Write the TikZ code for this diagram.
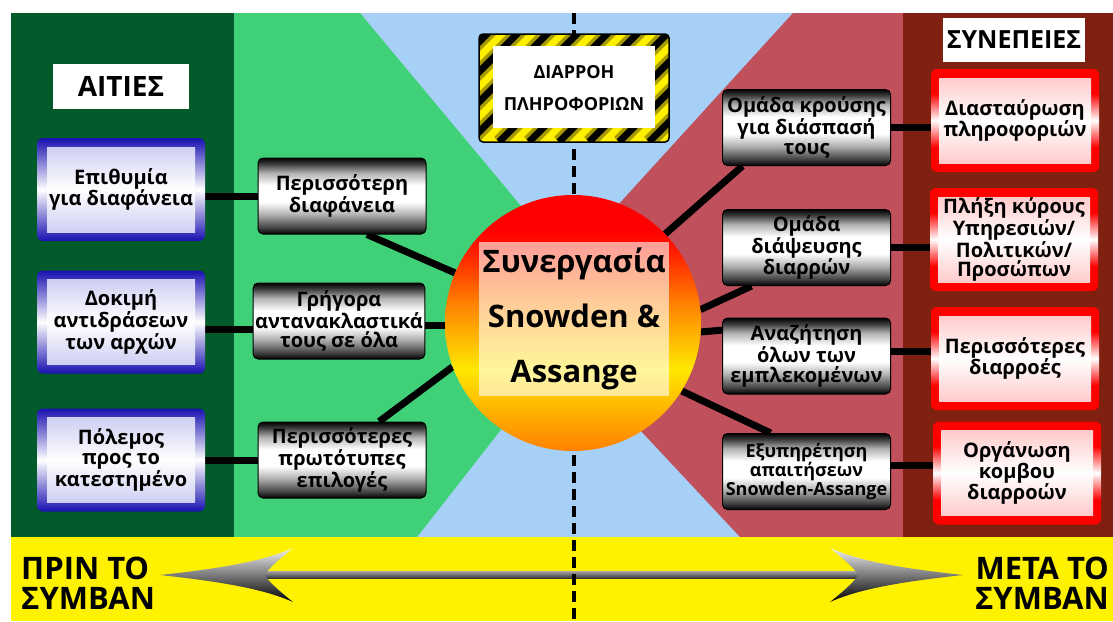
\documentclass[tikz,border=0pt]{standalone}
\usepackage{fontspec}
\setmainfont{Open Sans}
\usepackage{tikz}
\usetikzlibrary{arrows, shapes, positioning, backgrounds}

\definecolor{forest}{RGB}{3,91,43}
\definecolor{leaf}{RGB}{64,208,120}
\definecolor{sky}{RGB}{166,208,246}
\definecolor{rose}{RGB}{192,80,92}
\definecolor{maroon}{RGB}{128,32,16}
\definecolor{royal}{RGB}{24,16,176}
\definecolor{lilac}{RGB}{196,196,240}
\definecolor{blush}{RGB}{255,192,192}
\definecolor{hazard}{RGB}{255,240,0}
\definecolor{fireorange}{RGB}{255,128,0}
\definecolor{fireyellow}{RGB}{255,232,0}

\pgfdeclareverticalshading{glassgray}{100bp}{color(0bp)=(black); color(25bp)=(black); color(29bp)=(black!75); color(38bp)=(black!30); color(46bp)=(white); color(57bp)=(white); color(65bp)=(black!30); color(71bp)=(black!75); color(75bp)=(black); color(100bp)=(black)}
\pgfdeclareverticalshading{glassred}{100bp}{color(0bp)=(red); color(25bp)=(red); color(37bp)=(red); color(50bp)=(white); color(63bp)=(red); color(75bp)=(red); color(100bp)=(red)}
\pgfdeclareverticalshading{fireball}{100bp}{color(0bp)=(fireorange); color(25bp)=(fireorange); color(41bp)=(fireyellow); color(54bp)=(fireorange); color(63bp)=(red!70!fireorange); color(68bp)=(red); color(75bp)=(red); color(100bp)=(red)}

\newcommand{\cardfont}{\fontsize{20pt}{19.5pt}\selectfont\bfseries}

\tikzset{
		card/.style={minimum width=168pt, minimum height=103pt, align=center, inner sep=2pt, font=\cardfont, rounded corners=6pt},
		cause box/.style={card, top color=royal, bottom color=royal, middle color=white,
			path picture={\shade[sharp corners, top color=lilac, bottom color=lilac, middle color=white]
				([shift={(10pt,9pt)}]path picture bounding box.south west) rectangle
				([shift={(-10pt,-9pt)}]path picture bounding box.north east);}},
		effect box/.style={card, shade, shading=glassred,
			path picture={\shade[sharp corners, top color=blush, bottom color=blush, middle color=white]
				([shift={(8pt,9pt)}]path picture bounding box.south west) rectangle
				([shift={(-8pt,-9pt)}]path picture bounding box.north east);}},
		relay box/.style={minimum width=168pt, minimum height=76pt, align=center, inner sep=2pt, font=\cardfont,
			rounded corners=5pt, draw=black, line width=1pt, shade, shading=glassgray},
		title tag/.style={fill=white, minimum width=136pt, minimum height=45pt, font=\fontsize{28pt}{28pt}\selectfont\bfseries},
		era tag/.style={align=left, inner sep=0pt, font=\fontsize{31pt}{30pt}\selectfont\bfseries},
		hazard box/.style={minimum width=190pt, minimum height=108pt, rounded corners=4pt, draw=black, line width=1.5pt,
			fill=hazard, align=center, font=\fontsize{18pt}{32pt}\selectfont\bfseries,
			path picture={
				\foreach \k in {0,...,12}
					{\draw[sharp corners, black, line width=14pt, opacity=0.35] ([xshift=\k*30pt-130pt]path picture bounding box.south west) -- ++(150pt,150pt);
					 \draw[sharp corners, black, line width=7pt] ([xshift=\k*30pt-130pt]path picture bounding box.south west) -- ++(150pt,150pt);}
				\fill[white, sharp corners] ([shift={(14pt,14pt)}]path picture bounding box.south west) rectangle
					([shift={(-14pt,-12pt)}]path picture bounding box.north east);}},
		hub/.style={circle, minimum size=256pt, shade, shading=fireball},
		hub label/.style={fill=white, fill opacity=0.6, text opacity=1, minimum width=188pt, minimum height=154pt,
			align=center, font=\fontsize{31pt}{55pt}\selectfont\bfseries},
		link/.style={line width=7pt, black},
		leak line/.style={line width=4pt, black, dash pattern=on 11pt off 6pt}
	}

\begin{document}
\begin{tikzpicture}[x=1pt, y=-1pt, node distance=221pt]
		\useasboundingbox (0,0) rectangle (1113,621);

		% causes and what follows from them
		\node[title tag]  (causes) at (121,86.5) {ΑΙΤΙΕΣ};
		\node[cause box]  (c1) at (121,189.5) {Επιθυμία\\για διαφάνεια};
		\node[cause box]  (c2) at (121,322)   {Δοκιμή\\αντιδράσεων\\των αρχών};
		\node[cause box]  (c3) at (121,460)   {Πόλεμος\\προς το\\κατεστημένο};
		\node[relay box]  (l1) [right of = c1, yshift=-6.5pt] {Περισσότερη\\διαφάνεια};
		\node[relay box]  (l2) [right of = c2, xshift=-3pt, yshift=1pt] {Γρήγορα\\αντανακλαστικά\\τους σε όλα};
		\node[relay box]  (l3) [right of = c3] {Περισσότερες\\πρωτότυπες\\επιλογές};

		% consequences
		\node[title tag, minimum height=44pt, font=\fontsize{25pt}{25pt}\selectfont\bfseries] (effects) at (1014,40) {ΣΥΝΕΠΕΙΕΣ};
		\node[effect box] (e1) at (1015,120.5) {Διασταύρωση\\πληροφοριών};
		\node[effect box] (e2) at (1014,239.5) {Πλήξη κύρους\\Υπηρεσιών/\\Πολιτικών/\\Προσώπων};
		\node[effect box] (e3) at (1015,358.5) {Περισσότερες\\διαρροές};
		\node[effect box] (e4) at (1017,473)   {Οργάνωση\\κομβου\\διαρροών};
		\node[relay box]  (r1) [left of = e1, node distance=208.5pt, yshift=-7pt] {Ομάδα κρούσης\\για διάσπασή\\τους};
		\node[relay box]  (r2) [left of = e2, node distance=207.5pt, yshift=-8pt] {Ομάδα\\διάψευσης\\διαρρών};
		\node[relay box]  (r3) [left of = e3, node distance=208.5pt, yshift=2.5pt] {Αναζήτηση\\όλων των\\εμπλεκομένων};
		\node[relay box, font=\fontsize{18pt}{17.5pt}\selectfont\bfseries]
		                  (r4) [left of = e4, node distance=210.5pt, yshift=1.5pt] {Εξυπηρέτηση\\απαιτήσεων\\Snowden-Assange};

		% centre
		\node[hazard box] (leak) at (574,88) {ΔΙΑΡΡΟΗ\\ΠΛΗΡΟΦΟΡΙΩΝ};
		\node[hub]        (hub)  at (573,323) {};
		\node[hub label]  (pact) at (574,319) {Συνεργασία\\Snowden \&\\Assange};

		% before / after
		\node[era tag, anchor=west] (before) at (21,583) {ΠΡΙΝ ΤΟ\\ΣΥΜΒΑΝ};
		\node[era tag, anchor=east, align=right] (after) at (1109,583) {ΜΕΤΑ ΤΟ\\ΣΥΜΒΑΝ};
		\coordinate (past)   at (160,575);
		\coordinate (future) at (963,575);
		\coordinate (top)    at (574,13);
		\coordinate (bottom) at (574,621);

		\begin{pgfonlayer}{background}
			\fill[white]  (0,0) rectangle (1113,621);
			\fill[sky]    (11,13) rectangle (1113,537);
			\fill[leaf]   (234,13) -- (360,13) -- (601,302) -- (417,537) -- (234,537) -- cycle;
			\fill[rose]   (903,13) -- (793,13) -- (525,307) -- (740,537) -- (903,537) -- cycle;
			\fill[forest] (11,13) rectangle (234,537);
			\fill[maroon] (903,13) rectangle (1113,537);
			\fill[yellow] (11,537) rectangle (1113,621);

			% timeline arrow
			\shade[top color=gray!75, bottom color=gray!40!black] (262,571.5) rectangle (861,578.5);
			\shade[top color=gray!10, bottom color=black] (past)
				.. controls (215,569) and (262,562) .. (293,548)
				.. controls (278,560) and (268,569) .. (265,575)
				.. controls (268,581) and (278,590) .. (293,602)
				.. controls (262,588) and (215,581) .. (past) -- cycle;
			\shade[top color=gray!10, bottom color=black] (future)
				.. controls (908,569) and (861,562) .. (830,548)
				.. controls (845,560) and (855,569) .. (858,575)
				.. controls (855,581) and (845,590) .. (830,602)
				.. controls (861,588) and (908,581) .. (future) -- cycle;

			\draw[leak line] (top) -- (bottom);

			\draw[link] (l1.west) -- (l1.west -| c1.east);
			\draw[link] (c2.-5) -- (c2.-5 -| l2.west);
			\draw[link] (c3.east) -- (l3.west);
			\draw[link] (l1.-57) -- (hub.157);
			\draw[link] (l2.-3) -- (l2.-3 -| hub.west);
			\draw[link] (l3.46) -- (hub.200);

			\draw[link] (r1.211) -- (hub.44);
			\draw[link] (r2.215) -- (hub.6);
			\draw[link] (r3.163) -- (hub.-4);
			\draw[link] (r4.133) -- (hub.-32);
			\draw[link] (r1.east) -- (r1.east -| e1.west);
			\draw[link] (r2.east) -- (r2.east -| e2.west);
			\draw[link] (r3.3) -- (r3.3 -| e3.west);
			\draw[link] (r4.4) -- (r4.4 -| e4.west);
		\end{pgfonlayer}
	\end{tikzpicture}
\end{document}
